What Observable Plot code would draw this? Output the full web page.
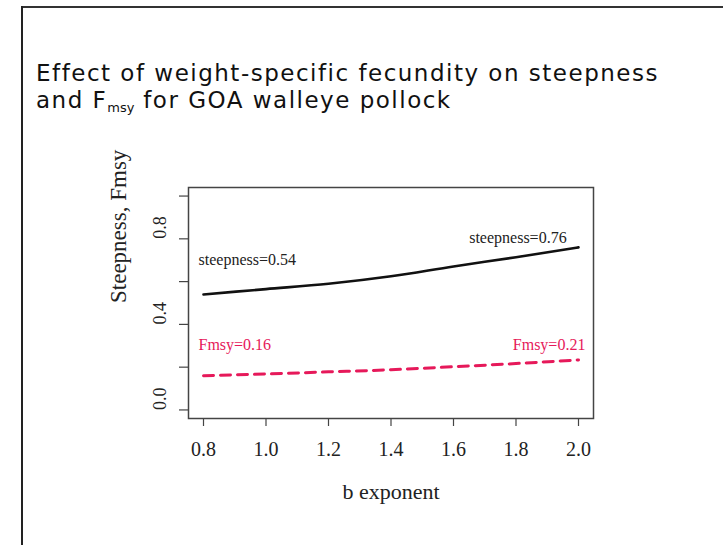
<!DOCTYPE html>
<html>
<head>
<meta charset="utf-8">
<script src="https://cdn.jsdelivr.net/npm/d3@7"></script>
<script src="https://cdn.jsdelivr.net/npm/@observablehq/plot@0.6"></script>
<style>
  html, body { margin: 0; padding: 0; background: #fff; width: 723px; height: 545px; overflow: hidden; }
  #hline { position: absolute; left: 21px; top: 6px; width: 702px; height: 2px; background: #333; }
  #vline { position: absolute; left: 21px; top: 6px; width: 2px; height: 539px; background: #222; }
  #title { position: absolute; left: 36px; top: 60px; font-family: "DejaVu Sans", sans-serif; font-size: 23px; line-height: 27px; color: #111; letter-spacing: 1.5px; white-space: nowrap; }
  #title sub { font-size: 13px; vertical-align: -4px; line-height: 0; letter-spacing: 0; }
  #chart { position: absolute; left: 100px; top: 160px; }
</style>
</head>
<body>
<div id="hline"></div>
<div id="vline"></div>
<div id="title">Effect of weight-specific fecundity on steepness<br>and F<sub>msy</sub> for GOA walleye pollock</div>
<div id="chart"></div>
<script>
// Data
const bExponent = [0.8, 1.0, 1.2, 1.4, 1.6, 1.8, 2.0];
const steepness = [0.54, 0.565, 0.59, 0.625, 0.671, 0.714, 0.76];
const fmsy = [0.16, 0.168, 0.178, 0.188, 0.202, 0.217, 0.234];

const xTicks = [0.8, 1.0, 1.2, 1.4, 1.6, 1.8, 2.0];
const yTicks = [0.0, 0.2, 0.4, 0.6, 0.8, 1.0];
const yTickLabels = [0.0, 0.4, 0.8];

const steepLabels = ["steepness=0.54", "steepness=0.76"];
const fmsyLabels = ["Fmsy=0.16", "Fmsy=0.21"];
const steepLabelX = [0.784, 1.962];
const steepLabelY = [0.70, 0.805];
const fmsyLabelX = [0.784, 2.022];
const fmsyLabelY = [0.304, 0.304];

const steepRows = bExponent.map((b, i) => ({b, v: steepness[i]}));
const fmsyRows = bExponent.map((b, i) => ({b, v: fmsy[i]}));
const steepAnn = steepLabels.map((t, i) => ({t, x: steepLabelX[i], y: steepLabelY[i]}));
const fmsyAnn = fmsyLabels.map((t, i) => ({t, x: fmsyLabelX[i], y: fmsyLabelY[i]}));

const red = "#e6195a";
const fmt = d3.format(".1f");
const annStyle = {x: "x", y: "y", text: "t", fontSize: 16, lineAnchor: "middle"};

const chart = Plot.plot({
  width: 520,
  height: 360,
  marginLeft: 88,
  marginRight: 27,
  marginTop: 27,
  marginBottom: 102,
  style: {background: "transparent", fontFamily: "'Liberation Serif', 'Times New Roman', serif", color: "#222", overflow: "visible"},
  x: {domain: [0.752, 2.048], axis: null},
  y: {domain: [-0.04, 1.04], axis: null},
  marks: [
    Plot.frame({stroke: "#444", strokeWidth: 1.5}),
    Plot.axisX({ticks: xTicks, tickSize: 8, tickFormat: () => "", stroke: "#444", strokeWidth: 1.2}),
    Plot.axisY({ticks: yTicks, tickSize: 9, tickFormat: () => "", stroke: "#444", strokeWidth: 1.2}),
    Plot.text(xTicks, {x: d => d, frameAnchor: "bottom", dy: 31, text: d => fmt(d), fontSize: 20, fill: "#222", lineAnchor: "middle"}),
    Plot.text(yTickLabels, {y: d => d, frameAnchor: "left", dx: -28, text: d => fmt(d), fontSize: 18, rotate: -90, fill: "#222", lineAnchor: "middle"}),
    Plot.text(["b exponent"], {frameAnchor: "bottom", dy: 73, text: d => d, fontSize: 22, fill: "#222", lineAnchor: "middle"}),
    Plot.text(["Steepness, Fmsy"], {frameAnchor: "left", dx: -70, text: d => d, fontSize: 23, rotate: -90, fill: "#222", lineAnchor: "middle"}),
    Plot.line(steepRows, {x: "b", y: "v", stroke: "#111", strokeWidth: 2.6, curve: "monotone-x"}),
    Plot.line(fmsyRows, {x: "b", y: "v", stroke: red, strokeWidth: 3, strokeDasharray: "10,7", curve: "monotone-x"}),
    Plot.text([steepAnn[0]], {...annStyle, textAnchor: "start", fill: "#222"}),
    Plot.text([steepAnn[1]], {...annStyle, textAnchor: "end", fill: "#222"}),
    Plot.text([fmsyAnn[0]], {...annStyle, textAnchor: "start", fill: red}),
    Plot.text([fmsyAnn[1]], {...annStyle, textAnchor: "end", fill: red})
  ]
});
document.getElementById("chart").appendChild(chart);
</script>
</body>
</html>
